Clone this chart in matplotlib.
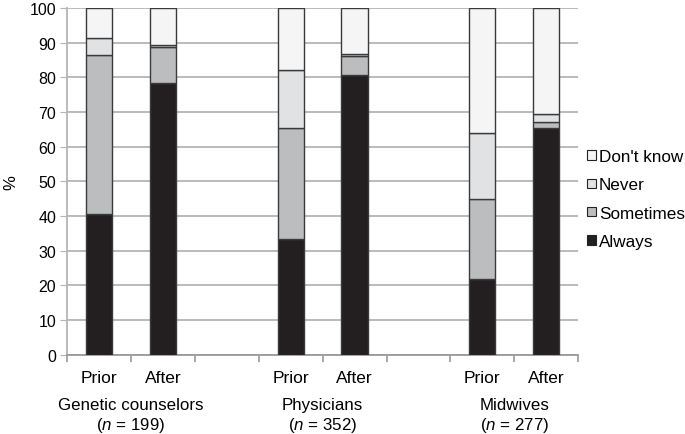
import matplotlib.pyplot as plt
import numpy as np
from matplotlib.patches import Patch

plt.rcParams['font.family'] = ['Liberation Sans', 'DejaVu Sans']
plt.rcParams['mathtext.fontset'] = 'custom'
plt.rcParams['mathtext.it'] = 'Liberation Sans:italic'
plt.rcParams['mathtext.rm'] = 'Liberation Sans'

groups = ["Genetic counselors", "Physicians", "Midwives"]
group_n = [199, 352, 277]
timepoints = ["Prior", "After"]
slots = [0, 1, 3, 4, 6, 7]

# percentages per bar: GC prior, GC after, Phys prior, Phys after, Mid prior, Mid after
always = [40.5, 78.4, 33.3, 80.7, 21.9, 65.3]
sometimes = [45.9, 10.4, 32.2, 5.6, 23.0, 1.9]
never = [5.1, 0.6, 16.6, 0.4, 19.2, 2.3]
dont_know = [8.5, 10.6, 17.9, 13.3, 35.9, 30.5]

series = [("Always", always, "#231f20"),
          ("Sometimes", sometimes, "#bcbdbf"),
          ("Never", never, "#e1e2e3"),
          ("Don't know", dont_know, "#f5f5f5")]

fig = plt.figure(figsize=(6.85, 4.35), dpi=100)
ax = fig.add_axes([0.098, 0.182, 0.746, 0.797])

bottom = np.zeros(len(slots))
for name, vals, col in series:
    ax.bar(slots, vals, width=0.41, bottom=bottom, color=col,
           edgecolor="#3a3a3a", linewidth=1.0, zorder=3)
    bottom += np.array(vals)

ax.set_xlim(-0.5, 7.5)
ax.set_ylim(0, 100)
ax.set_yticks(range(0, 101, 10))
ax.yaxis.grid(True, color="#b4b4b4", linewidth=1.3, zorder=0)
for s in ["top", "right"]:
    ax.spines[s].set_visible(False)
ax.spines["left"].set_color("#b4b4b4")
ax.spines["left"].set_linewidth(1.3)
ax.spines["bottom"].set_color("#9a9a9a")
ax.spines["bottom"].set_linewidth(1.3)
ax.tick_params(axis="y", length=5, color="#b4b4b4", labelsize=11.5, pad=3)

ax.set_xticks(slots)
ax.set_xticklabels(timepoints * 3, fontsize=12.5)
ax.tick_params(axis="x", which="major", length=0, pad=11)
ax.set_xticks(np.arange(-0.5, 8, 1), minor=True)
ax.tick_params(axis="x", which="minor", length=5, color="#9a9a9a", width=1.2)

ax.set_ylabel("%", fontsize=12, labelpad=8)

for i, (g, n) in enumerate(zip(groups, group_n)):
    xc = (slots[2 * i] + slots[2 * i + 1]) / 2
    ax.text(xc, -0.142, g, ha="center", va="center", fontsize=12.2,
            transform=ax.get_xaxis_transform())
    ax.text(xc, -0.202, "($\\mathit{n}$ = %d)" % n, ha="center", va="center",
            fontsize=12.2, transform=ax.get_xaxis_transform())

handles = [Patch(facecolor=col, edgecolor="#222222", linewidth=0.8, label=name)
           for name, vals, col in series][::-1]
fig.legend(handles=handles, loc="center left", bbox_to_anchor=(0.845, 0.54),
           frameon=False, fontsize=12.3, handlelength=0.48, handleheight=0.48,
           handletextpad=0.2, labelspacing=0.78, borderaxespad=0.1)

fig.savefig("out.png", dpi=100)
